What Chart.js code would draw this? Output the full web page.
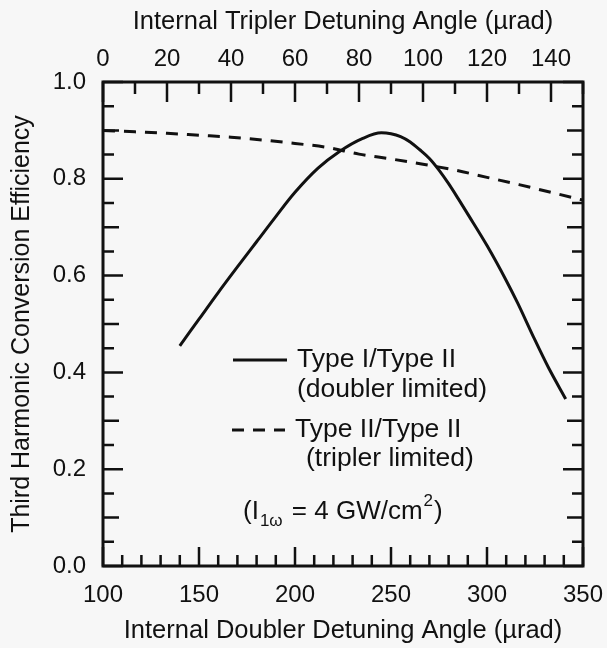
<!DOCTYPE html>
<html>
<head>
<meta charset="utf-8">
<script src="https://cdn.jsdelivr.net/npm/chart.js@4/dist/chart.umd.min.js"></script>
<style>
  html, body { margin: 0; padding: 0; background: #f7f7f7; }
  #wrap { width: 607px; height: 648px; }
</style>
</head>
<body>
<div id="wrap"><canvas id="c" width="607" height="648"></canvas></div>
<script>
// ---- data ----
// Solid curve: Type I/Type II (doubler limited), x = internal doubler detuning angle (µrad)
const doublerAngle = [140, 150, 160, 170, 180, 190, 200, 212, 223, 235, 245, 250, 255, 260, 265, 270, 275, 280, 285, 290, 300, 310, 316, 324, 332, 341];
const doublerEff   = [0.455, 0.51, 0.565, 0.618, 0.67, 0.722, 0.772, 0.822, 0.856, 0.883, 0.895, 0.893, 0.887, 0.876, 0.860, 0.842, 0.818, 0.790, 0.759, 0.727, 0.662, 0.590, 0.543, 0.475, 0.41, 0.345];
// Dashed curve: Type II/Type II (tripler limited), x = internal tripler detuning angle (µrad)
const triplerAngle = [0, 10, 20, 30, 40, 50, 60, 70, 80, 90, 100, 110, 120, 130, 140, 150];
const triplerEff   = [0.900, 0.897, 0.894, 0.890, 0.886, 0.880, 0.873, 0.865, 0.851, 0.841, 0.830, 0.818, 0.803, 0.788, 0.772, 0.756];

const bottomTicks = [100, 150, 200, 250, 300, 350];
const topTicks = [0, 20, 40, 60, 80, 100, 120, 140];
const yTicks = [0, 0.2, 0.4, 0.6, 0.8, 1.0];

const seriesNames = ['Type I/Type II', 'Type II/Type II'];
const seriesNotes = ['(doubler limited)', '(tripler limited)'];
const xTitle = 'Internal Doubler Detuning Angle (µrad)';
const x2Title = 'Internal Tripler Detuning Angle (µrad)';
const yTitle = 'Third Harmonic Conversion Efficiency';

const FONT = '"Liberation Sans", Arial, Helvetica, sans-serif';
const INK = '#111111';

function pts(xs, ys) { return xs.map((x, i) => ({ x: x, y: ys[i] })); }

const framePlugin = {
  id: 'frameTicksLegend',
  afterDatasetsDraw(chart) {
    const ctx = chart.ctx;
    const a = chart.chartArea;
    const sx = chart.scales.x, sx2 = chart.scales.x2, sy = chart.scales.y;
    ctx.save();
    ctx.strokeStyle = INK;
    ctx.lineWidth = 3;
    ctx.strokeRect(a.left, a.top, a.right - a.left, a.bottom - a.top);
    ctx.lineWidth = 2.5;
    ctx.beginPath();
    // bottom ticks every 10
    for (let v = 100; v <= 350; v += 10) {
      const px = sx.getPixelForValue(v);
      const len = (v % 50 === 0) ? 19 : 11;
      ctx.moveTo(px, a.bottom); ctx.lineTo(px, a.bottom - len);
    }
    // top ticks every 10
    for (let v = 0; v <= 150; v += 10) {
      const px = sx2.getPixelForValue(v);
      const len = (v % 20 === 0) ? 20 : 12;
      ctx.moveTo(px, a.top); ctx.lineTo(px, a.top + len);
    }
    // left & right ticks every 0.05
    for (let i = 0; i <= 20; i++) {
      const v = i * 0.05;
      const py = sy.getPixelForValue(v);
      const len = (i % 4 === 0) ? 20 : (i % 2 === 0 ? 16 : 11);
      ctx.moveTo(a.left, py); ctx.lineTo(a.left + len, py);
      ctx.moveTo(a.right, py); ctx.lineTo(a.right - len, py);
    }
    ctx.stroke();

    // legend
    const ds = chart.data.datasets;
    const L = [
      { x0: 233, x1: 287, y: 360, tx: 297, ty: 360, nx: 297, ny: 390 },
      { x0: 232, x1: 285, y: 430, tx: 295, ty: 430, nx: 306, ny: 459 }
    ];
    ctx.fillStyle = INK;
    ctx.textBaseline = 'middle';
    ctx.textAlign = 'left';
    ctx.font = '26.5px ' + FONT;
    L.forEach((p, i) => {
      ctx.save();
      ctx.lineWidth = ds[i].borderWidth;
      ctx.setLineDash(ds[i].borderDash || []);
      ctx.beginPath();
      ctx.moveTo(p.x0, p.y); ctx.lineTo(p.x1, p.y);
      ctx.stroke();
      ctx.restore();
      ctx.fillText(seriesNames[i], p.tx, p.ty);
      ctx.fillText(seriesNotes[i], p.nx, p.ny);
    });

    // (I_{1ω} = 4 GW/cm^2)
    let x = 243; const y = 512;
    const big = '26px ' + FONT, small = '17px ' + FONT;
    ctx.font = big; ctx.fillText('(I', x, y); x += ctx.measureText('(I').width + 1;
    ctx.font = small; ctx.fillText('1ω', x, y + 9); x += ctx.measureText('1ω').width + 2;
    ctx.font = big; ctx.fillText(' = 4 GW/cm', x, y); x += ctx.measureText(' = 4 GW/cm').width + 1;
    ctx.font = small; ctx.fillText('2', x, y - 11); x += ctx.measureText('2').width + 1;
    ctx.font = big; ctx.fillText(')', x, y);
    ctx.restore();
  }
};

function noPadX(s) { s.height = 82; s.paddingLeft = 0; s.paddingRight = 0; }

new Chart(document.getElementById('c'), {
  type: 'line',
  data: {
    datasets: [
      {
        label: seriesNames[0],
        data: pts(doublerAngle, doublerEff),
        xAxisID: 'x', yAxisID: 'y',
        borderColor: INK, borderWidth: 3, pointRadius: 0,
        cubicInterpolationMode: 'monotone', fill: false
      },
      {
        label: seriesNames[1],
        data: pts(triplerAngle, triplerEff),
        xAxisID: 'x2', yAxisID: 'y',
        borderColor: INK, borderWidth: 3, borderDash: [12, 9], pointRadius: 0,
        cubicInterpolationMode: 'monotone', fill: false
      }
    ]
  },
  options: {
    responsive: false,
    animation: false,
    devicePixelRatio: 1,
    layout: { padding: { left: 0, right: 24, top: 0, bottom: 0 } },
    plugins: { legend: { display: false }, tooltip: { enabled: false } },
    scales: {
      x: {
        type: 'linear', position: 'bottom', min: 100, max: 350,
        afterBuildTicks: s => { s.ticks = bottomTicks.map(v => ({ value: v })); },
        ticks: { font: { family: FONT, size: 24 }, color: INK, padding: 15, maxRotation: 0, autoSkip: false },
        grid: { display: false, drawTicks: false },
        border: { display: false },
        title: { display: true, text: xTitle, color: INK, font: { family: FONT, size: 25.5 }, padding: { top: 0, bottom: 2 } },
        afterFit: noPadX
      },
      x2: {
        type: 'linear', position: 'top', min: 0, max: 150,
        afterBuildTicks: s => { s.ticks = topTicks.map(v => ({ value: v })); },
        ticks: { font: { family: FONT, size: 24 }, color: INK, padding: 8, maxRotation: 0, autoSkip: false },
        grid: { display: false, drawTicks: false },
        border: { display: false },
        title: { display: true, text: x2Title, color: INK, font: { family: FONT, size: 25.5 }, padding: { top: 7, bottom: 0 } },
        afterFit: noPadX
      },
      y: {
        type: 'linear', position: 'left', min: 0, max: 1,
        afterBuildTicks: s => { s.ticks = yTicks.map(v => ({ value: v })); },
        ticks: { font: { family: FONT, size: 24 }, color: INK, padding: 17, callback: v => Number(v).toFixed(1) },
        grid: { display: false, drawTicks: false },
        border: { display: false },
        title: { display: true, text: yTitle, color: INK, font: { family: FONT, size: 25 }, padding: { top: 7, bottom: 0 } },
        afterFit: s => { s.width = 103; s.paddingTop = 0; s.paddingBottom = 0; }
      }
    }
  },
  plugins: [{
    id: 'bg',
    beforeDraw(chart) {
      const ctx = chart.ctx;
      ctx.save(); ctx.fillStyle = '#f7f7f7'; ctx.fillRect(0, 0, chart.width, chart.height); ctx.restore();
    }
  }, framePlugin]
});
</script>
</body>
</html>
